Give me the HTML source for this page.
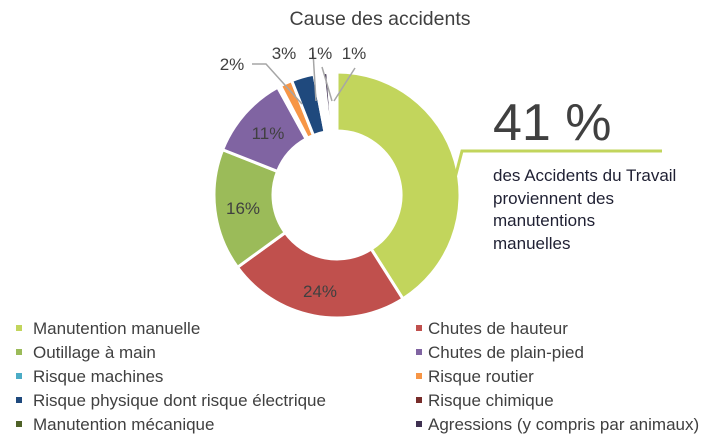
<!DOCTYPE html>
<html><head><meta charset="utf-8"><style>
body{margin:0;background:#fff;}
svg{display:block;font-family:"Liberation Sans",sans-serif;}
</style></head><body>
<svg id="s" width="711" height="445" viewBox="0 0 711 445" xmlns="http://www.w3.org/2000/svg">
<text x="380" y="25" text-anchor="middle" font-size="19.5" fill="#404040">Cause des accidents</text>
<g id="d"></g>
<g stroke="#a6a6a6" stroke-width="1.5" fill="none">
<polyline points="252,64 266,64 302,104"/>
<polyline points="313,52 316,101"/>
<polyline points="322,67 332,101"/>
<polyline points="355,68 334,101"/>
</g>
<g font-size="17" fill="#404040" text-anchor="middle">
<text x="320" y="297">24%</text>
<text x="243" y="214">16%</text>
<text x="268" y="139">11%</text>
<text x="232" y="70">2%</text>
<text x="284" y="59">3%</text>
<text x="320" y="59">1%</text>
<text x="354" y="59">1%</text>
</g>
<polyline points="455,178 462,151 662,151" fill="none" stroke="#c2d55c" stroke-width="3"/>
<text x="493" y="140" font-size="52" fill="#404040">41 %</text>
<g font-size="17" fill="#1f2033">
<text x="493" y="181">des Accidents du Travail</text>
<text x="493" y="204">proviennent des</text>
<text x="493" y="226">manutentions</text>
<text x="493" y="249">manuelles</text>
</g>
<g font-size="17" fill="#404040">
<rect x="16" y="325" width="6" height="6" fill="#c2d55c"/><text x="33" y="334">Manutention manuelle</text>
<rect x="16" y="349" width="6" height="6" fill="#9bbb59"/><text x="33" y="358">Outillage à main</text>
<rect x="16" y="373" width="6" height="6" fill="#4bacc6"/><text x="33" y="382">Risque machines</text>
<rect x="16" y="397" width="6" height="6" fill="#1f497d"/><text x="33" y="406">Risque physique dont risque électrique</text>
<rect x="16" y="421" width="6" height="6" fill="#4f6228"/><text x="33" y="430">Manutention mécanique</text>
<rect x="416" y="325" width="6" height="6" fill="#c0504d"/><text x="428" y="334">Chutes de hauteur</text>
<rect x="416" y="349" width="6" height="6" fill="#8064a2"/><text x="428" y="358">Chutes de plain-pied</text>
<rect x="416" y="373" width="6" height="6" fill="#f79646"/><text x="428" y="382">Risque routier</text>
<rect x="416" y="397" width="6" height="6" fill="#772c2a"/><text x="428" y="406">Risque chimique</text>
<rect x="416" y="421" width="6" height="6" fill="#3f3151"/><text x="428" y="430">Agressions (y compris par animaux)</text>
</g>
</svg>
<script>
var cx=337,cy=195,R=123,r=64;
var data=[[41,"#c2d55c"],[24,"#c0504d"],[16,"#9bbb59"],[11,"#8064a2"],[0.4,"#4bacc6"],[1.6,"#f79646"],[3,"#1f497d"],[1.2,"#ffffff"],[0.6,"#3f3151"],[1.2,"#ffffff"]];
var tot=0;data.forEach(function(d){tot+=d[0];});
var a=0,h="";
function p(rad,ang){return (cx+rad*Math.sin(ang)).toFixed(2)+","+(cy-rad*Math.cos(ang)).toFixed(2);}
data.forEach(function(d){
 var a0=a/tot*2*Math.PI;a+=d[0];var a1=a/tot*2*Math.PI;
 var lg=(a1-a0)>Math.PI?1:0;
 h+='<path d="M'+p(R,a0)+' A'+R+','+R+' 0 '+lg+' 1 '+p(R,a1)+' L'+p(r,a1)+' A'+r+','+r+' 0 '+lg+' 0 '+p(r,a0)+' Z" fill="'+d[1]+'" stroke="#fff" stroke-width="3"/>';
});
document.getElementById("d").innerHTML=h;
</script>
</body></html>
